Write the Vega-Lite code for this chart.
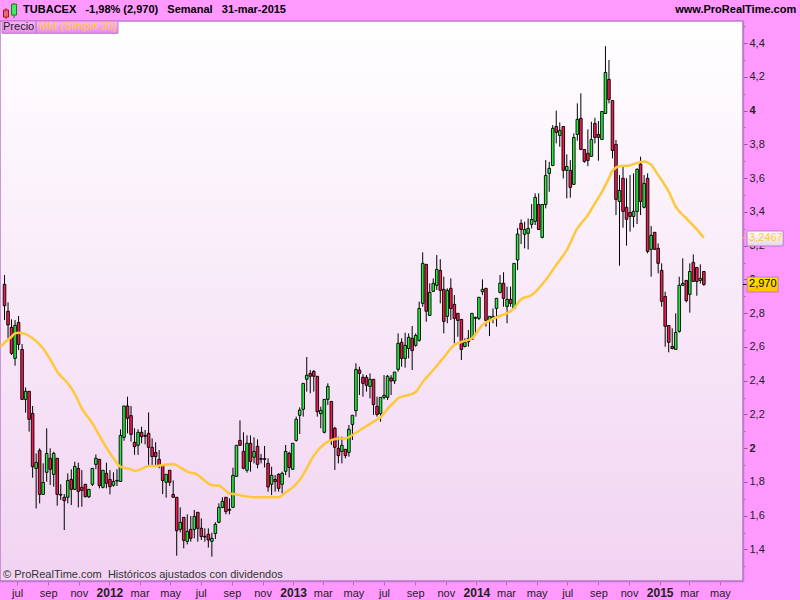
{"$schema":"https://vega.github.io/schema/vega-lite/v6.json","width":743,"height":560,"autosize":"none","padding":{"left":0,"top":21,"right":57,"bottom":19},"background":"#FF99FF","view":{"stroke":"#C078D0","strokeWidth":1.5,"fill":{"gradient":"linear","x1":0,"y1":0,"x2":0,"y2":1,"stops":[{"offset":0,"color":"#FFFFFF"},{"offset":1,"color":"#F1D3F1"}]}},"config":{"font":"Liberation Sans"},
"datasets":{"candles":[
{"date":"2011-06-06","open":2.971,"high":3.026,"low":2.759,"close":2.844},
{"date":"2011-06-13","open":2.811,"high":2.864,"low":2.651,"close":2.73},
{"date":"2011-06-20","open":2.716,"high":2.763,"low":2.552,"close":2.562},
{"date":"2011-06-27","open":2.532,"high":2.759,"low":2.489,"close":2.728},
{"date":"2011-07-04","open":2.745,"high":2.783,"low":2.581,"close":2.615},
{"date":"2011-07-11","open":2.585,"high":2.617,"low":2.289,"close":2.289},
{"date":"2011-07-18","open":2.289,"high":2.36,"low":2.21,"close":2.337},
{"date":"2011-07-25","open":2.337,"high":2.337,"low":2.098,"close":2.171},
{"date":"2011-08-01","open":2.206,"high":2.25,"low":1.825,"close":1.89},
{"date":"2011-08-08","open":1.88,"high":1.969,"low":1.643,"close":1.916},
{"date":"2011-08-15","open":1.987,"high":1.999,"low":1.673,"close":1.726},
{"date":"2011-08-22","open":1.726,"high":1.91,"low":1.726,"close":1.797},
{"date":"2011-08-29","open":1.857,"high":2.117,"low":1.801,"close":1.969},
{"date":"2011-09-05","open":1.94,"high":1.999,"low":1.782,"close":1.875},
{"date":"2011-09-12","open":1.845,"high":1.979,"low":1.772,"close":1.969},
{"date":"2011-09-19","open":1.94,"high":1.94,"low":1.659,"close":1.726},
{"date":"2011-09-26","open":1.726,"high":1.786,"low":1.693,"close":1.722},
{"date":"2011-10-03","open":1.709,"high":1.728,"low":1.515,"close":1.689},
{"date":"2011-10-10","open":1.709,"high":1.851,"low":1.673,"close":1.809},
{"date":"2011-10-17","open":1.815,"high":1.875,"low":1.663,"close":1.756},
{"date":"2011-10-24","open":1.756,"high":1.92,"low":1.752,"close":1.892},
{"date":"2011-10-31","open":1.88,"high":1.914,"low":1.649,"close":1.744},
{"date":"2011-11-07","open":1.768,"high":1.87,"low":1.653,"close":1.75},
{"date":"2011-11-14","open":1.786,"high":1.786,"low":1.709,"close":1.712},
{"date":"2011-11-21","open":1.712,"high":1.756,"low":1.705,"close":1.756},
{"date":"2011-11-28","open":1.786,"high":1.88,"low":1.776,"close":1.88},
{"date":"2011-12-05","open":1.904,"high":1.963,"low":1.876,"close":1.94},
{"date":"2011-12-12","open":1.934,"high":1.934,"low":1.762,"close":1.778},
{"date":"2011-12-19","open":1.768,"high":1.87,"low":1.762,"close":1.869},
{"date":"2011-12-26","open":1.851,"high":1.914,"low":1.762,"close":1.792},
{"date":"2012-01-02","open":1.815,"high":1.87,"low":1.726,"close":1.772},
{"date":"2012-01-09","open":1.78,"high":1.857,"low":1.772,"close":1.803},
{"date":"2012-01-16","open":1.805,"high":1.875,"low":1.776,"close":1.809},
{"date":"2012-01-23","open":1.803,"high":2.111,"low":1.803,"close":2.076},
{"date":"2012-01-30","open":2.064,"high":2.25,"low":2.044,"close":2.25},
{"date":"2012-02-06","open":2.25,"high":2.305,"low":2.088,"close":2.177},
{"date":"2012-02-13","open":2.193,"high":2.25,"low":2.039,"close":2.082},
{"date":"2012-02-20","open":2.035,"high":2.118,"low":1.96,"close":2.009},
{"date":"2012-02-27","open":2.017,"high":2.112,"low":1.96,"close":2.094},
{"date":"2012-03-05","open":2.094,"high":2.127,"low":2.029,"close":2.068},
{"date":"2012-03-12","open":2.076,"high":2.108,"low":2.023,"close":2.07},
{"date":"2012-03-19","open":2.088,"high":2.212,"low":1.9,"close":2.005},
{"date":"2012-03-26","open":2.005,"high":2.058,"low":1.9,"close":1.95},
{"date":"2012-04-02","open":1.975,"high":2.035,"low":1.896,"close":1.95},
{"date":"2012-04-09","open":1.934,"high":1.989,"low":1.881,"close":1.898},
{"date":"2012-04-16","open":1.898,"high":1.898,"low":1.728,"close":1.809},
{"date":"2012-04-23","open":1.798,"high":1.845,"low":1.707,"close":1.845},
{"date":"2012-04-30","open":1.869,"high":1.869,"low":1.776,"close":1.798},
{"date":"2012-05-07","open":1.726,"high":1.809,"low":1.709,"close":1.709},
{"date":"2012-05-14","open":1.709,"high":1.709,"low":1.363,"close":1.511},
{"date":"2012-05-21","open":1.519,"high":1.649,"low":1.501,"close":1.561},
{"date":"2012-05-28","open":1.59,"high":1.59,"low":1.407,"close":1.454},
{"date":"2012-06-04","open":1.448,"high":1.608,"low":1.43,"close":1.507},
{"date":"2012-06-11","open":1.519,"high":1.598,"low":1.446,"close":1.466},
{"date":"2012-06-18","open":1.519,"high":1.634,"low":1.466,"close":1.596},
{"date":"2012-06-25","open":1.62,"high":1.62,"low":1.446,"close":1.525},
{"date":"2012-07-02","open":1.525,"high":1.584,"low":1.456,"close":1.476},
{"date":"2012-07-09","open":1.478,"high":1.525,"low":1.446,"close":1.474},
{"date":"2012-07-16","open":1.49,"high":1.525,"low":1.411,"close":1.456},
{"date":"2012-07-23","open":1.448,"high":1.499,"low":1.357,"close":1.466},
{"date":"2012-07-30","open":1.494,"high":1.561,"low":1.462,"close":1.549},
{"date":"2012-08-06","open":1.561,"high":1.673,"low":1.555,"close":1.649},
{"date":"2012-08-13","open":1.649,"high":1.709,"low":1.644,"close":1.685},
{"date":"2012-08-20","open":1.709,"high":1.709,"low":1.608,"close":1.624},
{"date":"2012-08-27","open":1.638,"high":1.703,"low":1.608,"close":1.632},
{"date":"2012-09-03","open":1.649,"high":1.884,"low":1.649,"close":1.839},
{"date":"2012-09-10","open":1.833,"high":2.017,"low":1.831,"close":2.017},
{"date":"2012-09-17","open":2.046,"high":2.165,"low":2.013,"close":2.017},
{"date":"2012-09-24","open":1.981,"high":2.094,"low":1.875,"close":1.881},
{"date":"2012-10-01","open":1.869,"high":2.076,"low":1.855,"close":2.029},
{"date":"2012-10-08","open":2.029,"high":2.076,"low":1.861,"close":1.922},
{"date":"2012-10-15","open":1.946,"high":2.064,"low":1.91,"close":1.981},
{"date":"2012-10-22","open":2.011,"high":2.052,"low":1.881,"close":1.904},
{"date":"2012-10-29","open":1.938,"high":1.966,"low":1.91,"close":1.934},
{"date":"2012-11-05","open":1.938,"high":2.013,"low":1.886,"close":1.934},
{"date":"2012-11-12","open":1.91,"high":1.94,"low":1.742,"close":1.77},
{"date":"2012-11-19","open":1.786,"high":1.89,"low":1.722,"close":1.839},
{"date":"2012-11-26","open":1.815,"high":1.841,"low":1.742,"close":1.802},
{"date":"2012-12-03","open":1.845,"high":1.851,"low":1.742,"close":1.762},
{"date":"2012-12-10","open":1.786,"high":1.861,"low":1.732,"close":1.851},
{"date":"2012-12-17","open":1.863,"high":2.019,"low":1.841,"close":1.981},
{"date":"2012-12-24","open":1.969,"high":1.979,"low":1.827,"close":1.886},
{"date":"2012-12-31","open":1.875,"high":2.029,"low":1.871,"close":2.029},
{"date":"2013-01-07","open":2.046,"high":2.187,"low":2.039,"close":2.171},
{"date":"2013-01-14","open":2.195,"high":2.242,"low":2.084,"close":2.226},
{"date":"2013-01-21","open":2.23,"high":2.384,"low":2.187,"close":2.384},
{"date":"2013-01-28","open":2.408,"high":2.54,"low":2.335,"close":2.432},
{"date":"2013-02-04","open":2.443,"high":2.463,"low":2.325,"close":2.426},
{"date":"2013-02-11","open":2.455,"high":2.463,"low":2.335,"close":2.426},
{"date":"2013-02-18","open":2.426,"high":2.426,"low":2.187,"close":2.216},
{"date":"2013-02-25","open":2.204,"high":2.246,"low":2.118,"close":2.224},
{"date":"2013-03-04","open":2.094,"high":2.289,"low":2.088,"close":2.289},
{"date":"2013-03-11","open":2.289,"high":2.384,"low":2.256,"close":2.366},
{"date":"2013-03-18","open":2.277,"high":2.277,"low":2.019,"close":2.046},
{"date":"2013-03-25","open":2.118,"high":2.127,"low":1.871,"close":2.005},
{"date":"2013-04-01","open":1.999,"high":2.068,"low":1.91,"close":1.956},
{"date":"2013-04-08","open":1.981,"high":2.068,"low":1.91,"close":2.017},
{"date":"2013-04-15","open":1.993,"high":1.993,"low":1.94,"close":1.956},
{"date":"2013-04-22","open":1.975,"high":2.137,"low":1.95,"close":2.112},
{"date":"2013-04-29","open":2.141,"high":2.195,"low":2.048,"close":2.195},
{"date":"2013-05-06","open":2.222,"high":2.503,"low":2.187,"close":2.467},
{"date":"2013-05-13","open":2.463,"high":2.483,"low":2.315,"close":2.443},
{"date":"2013-05-20","open":2.42,"high":2.438,"low":2.305,"close":2.384},
{"date":"2013-05-27","open":2.42,"high":2.433,"low":2.335,"close":2.372},
{"date":"2013-06-03","open":2.366,"high":2.443,"low":2.295,"close":2.408},
{"date":"2013-06-10","open":2.408,"high":2.408,"low":2.197,"close":2.258},
{"date":"2013-06-17","open":2.248,"high":2.305,"low":2.187,"close":2.199},
{"date":"2013-06-24","open":2.204,"high":2.301,"low":2.157,"close":2.301},
{"date":"2013-07-01","open":2.301,"high":2.433,"low":2.289,"close":2.313},
{"date":"2013-07-08","open":2.301,"high":2.433,"low":2.285,"close":2.426},
{"date":"2013-07-15","open":2.416,"high":2.433,"low":2.315,"close":2.398},
{"date":"2013-07-22","open":2.398,"high":2.451,"low":2.38,"close":2.451},
{"date":"2013-07-29","open":2.467,"high":2.68,"low":2.453,"close":2.621},
{"date":"2013-08-05","open":2.627,"high":2.651,"low":2.483,"close":2.532},
{"date":"2013-08-12","open":2.532,"high":2.684,"low":2.477,"close":2.609},
{"date":"2013-08-19","open":2.591,"high":2.68,"low":2.532,"close":2.657},
{"date":"2013-08-26","open":2.651,"high":2.724,"low":2.463,"close":2.578},
{"date":"2013-09-02","open":2.609,"high":2.68,"low":2.601,"close":2.668},
{"date":"2013-09-09","open":2.639,"high":2.868,"low":2.631,"close":2.828},
{"date":"2013-09-16","open":2.858,"high":3.16,"low":2.838,"close":3.095},
{"date":"2013-09-23","open":3.089,"high":3.089,"low":2.749,"close":2.811},
{"date":"2013-09-30","open":2.787,"high":2.977,"low":2.783,"close":2.923},
{"date":"2013-10-07","open":2.929,"high":3.006,"low":2.927,"close":2.977},
{"date":"2013-10-14","open":2.965,"high":3.144,"low":2.937,"close":3.059},
{"date":"2013-10-21","open":3.053,"high":3.119,"low":2.858,"close":2.935},
{"date":"2013-10-28","open":2.941,"high":3.016,"low":2.68,"close":2.751},
{"date":"2013-11-04","open":2.781,"high":2.947,"low":2.74,"close":2.935},
{"date":"2013-11-11","open":2.947,"high":3.006,"low":2.759,"close":2.828},
{"date":"2013-11-18","open":2.852,"high":2.907,"low":2.621,"close":2.769},
{"date":"2013-11-25","open":2.799,"high":2.799,"low":2.66,"close":2.757},
{"date":"2013-12-02","open":2.763,"high":2.763,"low":2.522,"close":2.585},
{"date":"2013-12-09","open":2.603,"high":2.651,"low":2.597,"close":2.627},
{"date":"2013-12-16","open":2.651,"high":2.7,"low":2.601,"close":2.631},
{"date":"2013-12-23","open":2.645,"high":2.799,"low":2.641,"close":2.799},
{"date":"2013-12-30","open":2.769,"high":2.779,"low":2.67,"close":2.775},
{"date":"2014-01-06","open":2.769,"high":2.894,"low":2.759,"close":2.894},
{"date":"2014-01-13","open":2.927,"high":3.0,"low":2.907,"close":2.941},
{"date":"2014-01-20","open":2.947,"high":2.947,"low":2.72,"close":2.757},
{"date":"2014-01-27","open":2.757,"high":2.781,"low":2.664,"close":2.781},
{"date":"2014-02-03","open":2.769,"high":2.828,"low":2.74,"close":2.781},
{"date":"2014-02-10","open":2.828,"high":2.888,"low":2.72,"close":2.888},
{"date":"2014-02-17","open":2.923,"high":3.026,"low":2.917,"close":2.977},
{"date":"2014-02-24","open":2.977,"high":3.042,"low":2.838,"close":2.888},
{"date":"2014-03-03","open":2.84,"high":2.957,"low":2.74,"close":2.882},
{"date":"2014-03-10","open":2.882,"high":2.957,"low":2.838,"close":2.858},
{"date":"2014-03-17","open":2.828,"high":3.095,"low":2.828,"close":3.095},
{"date":"2014-03-24","open":3.115,"high":3.304,"low":3.055,"close":3.269},
{"date":"2014-03-31","open":3.332,"high":3.355,"low":3.209,"close":3.296},
{"date":"2014-04-07","open":3.267,"high":3.342,"low":3.184,"close":3.296},
{"date":"2014-04-14","open":3.273,"high":3.361,"low":3.178,"close":3.302},
{"date":"2014-04-21","open":3.326,"high":3.446,"low":3.302,"close":3.355},
{"date":"2014-04-28","open":3.344,"high":3.51,"low":3.322,"close":3.486},
{"date":"2014-05-05","open":3.444,"high":3.51,"low":3.292,"close":3.296},
{"date":"2014-05-12","open":3.249,"high":3.444,"low":3.243,"close":3.444},
{"date":"2014-05-19","open":3.444,"high":3.707,"low":3.421,"close":3.616},
{"date":"2014-05-26","open":3.628,"high":3.697,"low":3.519,"close":3.658},
{"date":"2014-06-02","open":3.675,"high":3.914,"low":3.671,"close":3.895},
{"date":"2014-06-09","open":3.906,"high":4.0,"low":3.806,"close":3.871},
{"date":"2014-06-16","open":3.853,"high":3.93,"low":3.786,"close":3.883},
{"date":"2014-06-23","open":3.906,"high":3.906,"low":3.598,"close":3.646},
{"date":"2014-06-30","open":3.646,"high":3.741,"low":3.48,"close":3.669},
{"date":"2014-07-07","open":3.646,"high":3.707,"low":3.484,"close":3.545},
{"date":"2014-07-14","open":3.563,"high":3.865,"low":3.559,"close":3.841},
{"date":"2014-07-21","open":3.859,"high":4.043,"low":3.822,"close":3.948},
{"date":"2014-07-28","open":3.954,"high":4.102,"low":3.766,"close":3.77},
{"date":"2014-08-04","open":3.77,"high":3.77,"low":3.691,"close":3.699},
{"date":"2014-08-11","open":3.747,"high":3.889,"low":3.671,"close":3.705},
{"date":"2014-08-18","open":3.729,"high":3.934,"low":3.727,"close":3.829},
{"date":"2014-08-25","open":3.924,"high":3.958,"low":3.806,"close":3.841},
{"date":"2014-09-01","open":3.859,"high":3.938,"low":3.703,"close":3.841},
{"date":"2014-09-08","open":3.829,"high":3.995,"low":3.826,"close":3.995},
{"date":"2014-09-15","open":3.983,"high":4.382,"low":3.983,"close":4.226},
{"date":"2014-09-22","open":4.185,"high":4.3,"low":4.043,"close":4.066},
{"date":"2014-09-29","open":4.06,"high":4.06,"low":3.717,"close":3.764},
{"date":"2014-10-06","open":3.8,"high":3.826,"low":3.381,"close":3.474},
{"date":"2014-10-13","open":3.462,"high":3.618,"low":3.081,"close":3.527},
{"date":"2014-10-20","open":3.599,"high":3.668,"low":3.306,"close":3.403},
{"date":"2014-10-27","open":3.427,"high":3.599,"low":3.2,"close":3.356},
{"date":"2014-11-03","open":3.397,"high":3.618,"low":3.283,"close":3.373},
{"date":"2014-11-10","open":3.373,"high":3.628,"low":3.308,"close":3.403},
{"date":"2014-11-17","open":3.403,"high":3.658,"low":3.328,"close":3.652},
{"date":"2014-11-24","open":3.683,"high":3.727,"low":3.381,"close":3.462},
{"date":"2014-12-01","open":3.427,"high":3.618,"low":3.421,"close":3.569},
{"date":"2014-12-08","open":3.599,"high":3.628,"low":3.154,"close":3.166},
{"date":"2014-12-15","open":3.178,"high":3.316,"low":3.016,"close":3.261},
{"date":"2014-12-22","open":3.279,"high":3.279,"low":3.174,"close":3.178},
{"date":"2014-12-29","open":3.184,"high":3.213,"low":3.036,"close":3.095},
{"date":"2015-01-05","open":3.053,"high":3.095,"low":2.838,"close":2.87},
{"date":"2015-01-12","open":2.899,"high":2.927,"low":2.601,"close":2.722},
{"date":"2015-01-19","open":2.727,"high":2.727,"low":2.568,"close":2.627},
{"date":"2015-01-26","open":2.603,"high":2.71,"low":2.585,"close":2.591},
{"date":"2015-02-02","open":2.585,"high":2.799,"low":2.585,"close":2.686},
{"date":"2015-02-09","open":2.692,"high":3.016,"low":2.684,"close":2.965},
{"date":"2015-02-16","open":2.965,"high":3.125,"low":2.961,"close":2.976},
{"date":"2015-02-23","open":2.994,"high":2.994,"low":2.864,"close":2.874},
{"date":"2015-03-02","open":2.911,"high":3.095,"low":2.803,"close":3.047},
{"date":"2015-03-09","open":3.101,"high":3.148,"low":2.986,"close":2.988},
{"date":"2015-03-16","open":3.071,"high":3.071,"low":2.903,"close":2.988},
{"date":"2015-03-23","open":2.994,"high":3.089,"low":2.976,"close":3.006},
{"date":"2015-03-30","open":3.047,"high":3.047,"low":2.962,"close":2.97}
],"ma":[
{"date":"2011-05-29","ma":2.601},{"date":"2011-06-06","ma":2.625},{"date":"2011-06-20","ma":2.66},{"date":"2011-06-27","ma":2.68},{"date":"2011-07-04","ma":2.684},{"date":"2011-07-18","ma":2.676},{"date":"2011-08-01","ma":2.651},{"date":"2011-08-22","ma":2.591},{"date":"2011-09-05","ma":2.526},{"date":"2011-09-19","ma":2.453},{"date":"2011-10-10","ma":2.384},{"date":"2011-10-24","ma":2.321},{"date":"2011-11-07","ma":2.236},{"date":"2011-11-28","ma":2.147},{"date":"2011-12-19","ma":2.038},{"date":"2012-01-09","ma":1.94},{"date":"2012-01-23","ma":1.89},{"date":"2012-02-13","ma":1.874},{"date":"2012-02-20","ma":1.865},{"date":"2012-03-05","ma":1.877},{"date":"2012-03-19","ma":1.894},{"date":"2012-04-02","ma":1.894},{"date":"2012-04-16","ma":1.9},{"date":"2012-05-07","ma":1.906},{"date":"2012-05-21","ma":1.886},{"date":"2012-06-04","ma":1.861},{"date":"2012-06-25","ma":1.841},{"date":"2012-07-09","ma":1.807},{"date":"2012-07-23","ma":1.78},{"date":"2012-08-06","ma":1.778},{"date":"2012-08-27","ma":1.732},{"date":"2012-09-10","ma":1.726},{"date":"2012-09-24","ma":1.717},{"date":"2012-10-15","ma":1.709},{"date":"2012-10-29","ma":1.709},{"date":"2012-12-03","ma":1.709},{"date":"2012-12-17","ma":1.738},{"date":"2012-12-31","ma":1.768},{"date":"2013-01-14","ma":1.811},{"date":"2013-01-28","ma":1.881},{"date":"2013-02-11","ma":1.956},{"date":"2013-03-04","ma":2.025},{"date":"2013-03-18","ma":2.048},{"date":"2013-04-01","ma":2.058},{"date":"2013-04-15","ma":2.058},{"date":"2013-04-29","ma":2.078},{"date":"2013-05-20","ma":2.118},{"date":"2013-06-10","ma":2.157},{"date":"2013-06-24","ma":2.183},{"date":"2013-07-15","ma":2.256},{"date":"2013-07-22","ma":2.274},{"date":"2013-07-29","ma":2.297},{"date":"2013-08-19","ma":2.315},{"date":"2013-09-02","ma":2.333},{"date":"2013-09-16","ma":2.392},{"date":"2013-10-07","ma":2.463},{"date":"2013-10-28","ma":2.538},{"date":"2013-11-18","ma":2.611},{"date":"2013-12-02","ma":2.629},{"date":"2013-12-23","ma":2.651},{"date":"2014-01-13","ma":2.73},{"date":"2014-02-10","ma":2.775},{"date":"2014-03-17","ma":2.828},{"date":"2014-03-31","ma":2.882},{"date":"2014-04-21","ma":2.907},{"date":"2014-05-19","ma":2.996},{"date":"2014-06-09","ma":3.085},{"date":"2014-06-30","ma":3.174},{"date":"2014-07-21","ma":3.302},{"date":"2014-08-11","ma":3.381},{"date":"2014-08-25","ma":3.45},{"date":"2014-09-08","ma":3.519},{"date":"2014-09-22","ma":3.6},{"date":"2014-09-29","ma":3.644},{"date":"2014-10-13","ma":3.671},{"date":"2014-11-03","ma":3.675},{"date":"2014-11-10","ma":3.683},{"date":"2014-12-01","ma":3.699},{"date":"2014-12-15","ma":3.678},{"date":"2014-12-29","ma":3.618},{"date":"2015-01-19","ma":3.52},{"date":"2015-02-02","ma":3.431},{"date":"2015-02-23","ma":3.362},{"date":"2015-03-16","ma":3.296},{"date":"2015-03-30","ma":3.247}
],"one":[{"k":1}]},
"layer":[
{"data":{"name":"candles"},"mark":{"type":"rule","color":"#000000","strokeWidth":1},"encoding":{"x":{"field":"date","type":"temporal","scale":{"nice":false,"padding":0,"domain":[{"year":2011,"month":5,"date":28},{"year":2015,"month":6,"date":16}]},"axis":{"orient":"bottom","title":null,"grid":false,"values":[{"year":2011,"month":7,"date":1},{"year":2011,"month":9,"date":1},{"year":2011,"month":11,"date":1},{"year":2012,"month":1,"date":1},{"year":2012,"month":3,"date":1},{"year":2012,"month":5,"date":1},{"year":2012,"month":7,"date":1},{"year":2012,"month":9,"date":1},{"year":2012,"month":11,"date":1},{"year":2013,"month":1,"date":1},{"year":2013,"month":3,"date":1},{"year":2013,"month":5,"date":1},{"year":2013,"month":7,"date":1},{"year":2013,"month":9,"date":1},{"year":2013,"month":11,"date":1},{"year":2014,"month":1,"date":1},{"year":2014,"month":3,"date":1},{"year":2014,"month":5,"date":1},{"year":2014,"month":7,"date":1},{"year":2014,"month":9,"date":1},{"year":2014,"month":11,"date":1},{"year":2015,"month":1,"date":1},{"year":2015,"month":3,"date":1},{"year":2015,"month":5,"date":1}],"labelExpr":"month(datum.value)==0?timeFormat(datum.value,'%Y'):['ene','feb','mar','abr','may','jun','jul','ago','sep','oct','nov','dic'][month(datum.value)]","labelFontWeight":{"condition":{"test":"month(datum.value)==0","value":"bold"},"value":"normal"},"labelFontSize":{"condition":{"test":"month(datum.value)==0","value":12},"value":11},"labelColor":"#222222","labelPadding":2,"labelOverlap":false,"labelFlush":false,"labelBound":false,"tickSize":4,"tickColor":"#B070B8","domainColor":"#C078D0","domainWidth":1.5}},"y":{"field":"low","type":"quantitative","scale":{"domain":[1.213,4.531],"nice":false,"zero":false},"axis":{"orient":"right","title":null,"grid":false,"values":[1.4,1.6,1.8,2,2.2,2.4,2.6,2.8,3,3.2,3.4,3.6,3.8,4,4.2,4.4],"labelExpr":"replace(format(datum.value,datum.value%1==0?'.0f':'.1f'),'.',',')","labelFontWeight":{"condition":{"test":"datum.value==2||datum.value==3||datum.value==4","value":"bold"},"value":"normal"},"labelFontSize":11,"labelColor":"#222222","labelPadding":2,"labelOverlap":false,"labelBound":false,"labelFlush":false,"tickSize":4,"tickColor":"#886088","domainColor":"#C078D0","domainWidth":1.5}},"y2":{"field":"high"}}},
{"data":{"name":"candles"},"mark":{"type":"bar","size":2.6,"stroke":"#000000","strokeWidth":0.9},"encoding":{"x":{"field":"date","type":"temporal","axis":null},"y":{"field":"open","type":"quantitative","axis":{"orient":"right","title":null,"grid":false,"values":[1.3,1.5,1.7,1.9,2.1,2.3,2.5,2.7,2.9,3.1,3.3,3.5,3.7,3.9,4.1,4.3,4.5],"labels":false,"domain":false,"tickSize":2,"tickColor":"#A070A8"}},"y2":{"field":"close"},"fill":{"condition":{"test":"datum.close>=datum.open","value":"#1FF03C"},"value":"#F51A50"}}},
{"data":{"name":"ma"},"mark":{"type":"line","color":"#FFC83C","strokeWidth":2.5,"interpolate":"monotone"},"encoding":{"x":{"field":"date","type":"temporal","axis":null},"y":{"field":"ma","type":"quantitative","axis":null}}},
{"data":{"name":"one"},"mark":{"type":"rule","color":"#B02020"},"encoding":{"x":{"datum":{"year":2011,"month":6,"date":9},"type":"temporal","axis":null},"y":{"datum":4.608,"type":"quantitative","axis":null},"y2":{"datum":4.542}}},
{"data":{"name":"one"},"mark":{"type":"bar","size":5,"fill":"#EE6A6A","stroke":"#A01818","strokeWidth":1},"encoding":{"x":{"datum":{"year":2011,"month":6,"date":9},"type":"temporal","axis":null},"y":{"datum":4.596,"type":"quantitative","axis":null},"y2":{"datum":4.554}}},
{"data":{"name":"one"},"mark":{"type":"rule","color":"#108020"},"encoding":{"x":{"datum":{"year":2011,"month":6,"date":25},"type":"temporal","axis":null},"y":{"datum":4.637,"type":"quantitative","axis":null},"y2":{"datum":4.548}}},
{"data":{"name":"one"},"mark":{"type":"bar","size":5,"fill":"#40EE60","stroke":"#108020","strokeWidth":1},"encoding":{"x":{"datum":{"year":2011,"month":6,"date":25},"type":"temporal","axis":null},"y":{"datum":4.631,"type":"quantitative","axis":null},"y2":{"datum":4.566}}},
{"data":{"name":"one"},"mark":{"type":"text","align":"left","baseline":"middle","font":"Liberation Sans","fontWeight":"bold","fontSize":11,"color":"#000000","text":"TUBACEX\u00a0\u00a0\u00a0-1,98%\u00a0(2,970)\u00a0\u00a0\u00a0Semanal\u00a0\u00a0\u00a031-mar-2015"},"encoding":{"x":{"datum":{"year":2011,"month":7,"date":13},"type":"temporal","axis":null},"y":{"datum":4.596,"type":"quantitative","axis":null}}},
{"data":{"name":"one"},"mark":{"type":"text","align":"right","baseline":"middle","font":"Liberation Sans","fontWeight":"bold","fontSize":11,"color":"#000000","text":"www.ProRealTime.com"},"encoding":{"x":{"datum":{"year":2015,"month":9,"date":30},"type":"temporal","axis":null},"y":{"datum":4.596,"type":"quantitative","axis":null}}},
{"data":{"name":"one"},"mark":{"type":"rect","stroke":"#C078D0","fill":{"gradient":"linear","x1":0,"y1":0,"x2":0,"y2":1,"stops":[{"offset":0,"color":"#FFB4FF"},{"offset":1,"color":"#E48CE4"}]}},"encoding":{"x":{"datum":{"year":2011,"month":6,"date":1},"type":"temporal","axis":null},"x2":{"datum":{"year":2011,"month":8,"date":8}},"y":{"datum":4.531,"type":"quantitative","axis":null},"y2":{"datum":4.458}}},
{"data":{"name":"one"},"mark":{"type":"rect","stroke":"#C078D0","fill":{"gradient":"linear","x1":0,"y1":0,"x2":0,"y2":1,"stops":[{"offset":0,"color":"#FFB4FF"},{"offset":1,"color":"#E48CE4"}]}},"encoding":{"x":{"datum":{"year":2011,"month":8,"date":8},"type":"temporal","axis":null},"x2":{"datum":{"year":2012,"month":1,"date":18}},"y":{"datum":4.531,"type":"quantitative","axis":null},"y2":{"datum":4.458}}},
{"data":{"name":"one"},"mark":{"type":"text","align":"left","baseline":"middle","font":"Liberation Sans","fontSize":11,"color":"#222222","text":"Precio"},"encoding":{"x":{"datum":{"year":2011,"month":6,"date":3},"type":"temporal","axis":null},"y":{"datum":4.495,"type":"quantitative","axis":null}}},
{"data":{"name":"one"},"mark":{"type":"text","align":"left","baseline":"middle","font":"Liberation Sans","fontSize":11,"color":"#FFC83C","text":"MM (Simple 30)"},"encoding":{"x":{"datum":{"year":2011,"month":8,"date":13},"type":"temporal","axis":null},"y":{"datum":4.495,"type":"quantitative","axis":null}}},
{"data":{"name":"one"},"mark":{"type":"text","align":"left","baseline":"middle","font":"Liberation Sans","fontSize":11,"color":"#333333","text":"© ProRealTime.com\u00a0\u00a0Históricos ajustados con dividendos"},"encoding":{"x":{"datum":{"year":2011,"month":6,"date":3},"type":"temporal","axis":null},"y":{"datum":1.249,"type":"quantitative","axis":null}}},
{"data":{"name":"one"},"mark":{"type":"rule","color":"#000000","strokeWidth":1},"encoding":{"x":{"datum":{"year":2015,"month":6,"date":16},"type":"temporal","axis":null},"x2":{"datum":{"year":2015,"month":6,"date":24}},"y":{"datum":2.97,"type":"quantitative","axis":null}}},
{"data":{"name":"one"},"mark":{"type":"rule","color":"#FFC83C","strokeWidth":1},"encoding":{"x":{"datum":{"year":2015,"month":6,"date":16},"type":"temporal","axis":null},"x2":{"datum":{"year":2015,"month":6,"date":24}},"y":{"datum":3.2467,"type":"quantitative","axis":null}}},
{"data":{"name":"one"},"mark":{"type":"rect","stroke":"#C078D0","fill":{"gradient":"linear","x1":0,"y1":0,"x2":0,"y2":1,"stops":[{"offset":0,"color":"#FFE600"},{"offset":1,"color":"#FFBE00"}]}},"encoding":{"x":{"datum":{"year":2015,"month":6,"date":24},"type":"temporal","axis":null},"x2":{"datum":{"year":2015,"month":8,"date":25}},"y":{"datum":3.014,"type":"quantitative","axis":null},"y2":{"datum":2.925}}},
{"data":{"name":"one"},"mark":{"type":"rect","stroke":"#C078D0","fill":{"gradient":"linear","x1":0,"y1":0,"x2":0,"y2":1,"stops":[{"offset":0,"color":"#FFFFFF"},{"offset":1,"color":"#E6D8E6"}]}},"encoding":{"x":{"datum":{"year":2015,"month":6,"date":24},"type":"temporal","axis":null},"x2":{"datum":{"year":2015,"month":9,"date":4}},"y":{"datum":3.287,"type":"quantitative","axis":null},"y2":{"datum":3.198}}},
{"data":{"name":"one"},"mark":{"type":"text","align":"left","baseline":"middle","font":"Liberation Sans","fontSize":11,"color":"#000000","text":"2,970"},"encoding":{"x":{"datum":{"year":2015,"month":6,"date":28},"type":"temporal","axis":null},"y":{"datum":2.97,"type":"quantitative","axis":null}}},
{"data":{"name":"one"},"mark":{"type":"text","align":"left","baseline":"middle","font":"Liberation Sans","fontSize":11,"color":"#FFC83C","text":"3,2467"},"encoding":{"x":{"datum":{"year":2015,"month":6,"date":28},"type":"temporal","axis":null},"y":{"datum":3.2425,"type":"quantitative","axis":null}}}
],
"resolve":{"axis":{"y":"independent","x":"independent"},"scale":{"y":"shared","x":"shared"}}}
